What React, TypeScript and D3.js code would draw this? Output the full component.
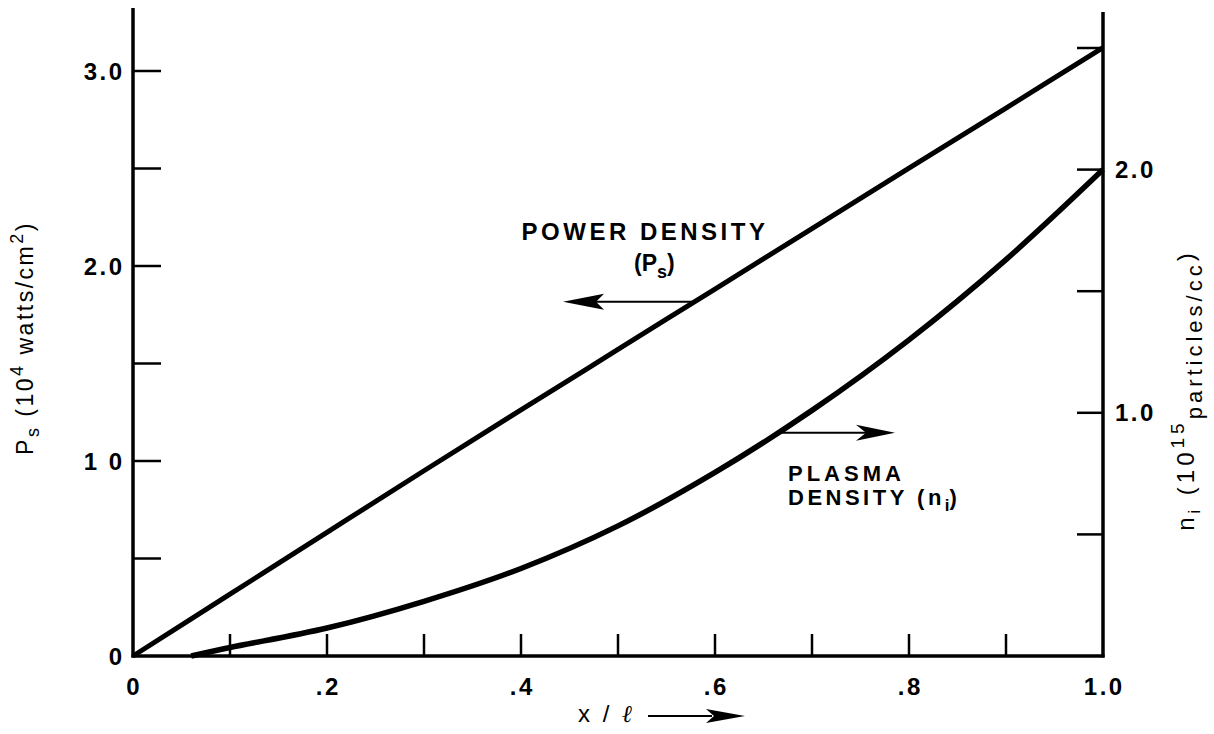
import React from "react";
import * as d3 from "d3";

// x / l positions
const xValues = [0, 0.1, 0.2, 0.3, 0.4, 0.5, 0.6, 0.7, 0.8, 0.9, 1.0];
// Power density Ps (10^4 watts/cm^2), left axis
const powerDensity = [0, 0.317, 0.634, 0.95, 1.262, 1.572, 1.882, 2.192, 2.502, 2.81, 3.12];
// Plasma density ni (10^15 particles/cc), right axis
const plasmaX = [0.06, 0.1, 0.2, 0.3, 0.4, 0.5, 0.6, 0.7, 0.8, 0.9, 1.0];
const plasmaDensity = [0, 0.035, 0.115, 0.225, 0.36, 0.535, 0.755, 1.01, 1.3, 1.63, 2.0];

const xTicks = [0.1, 0.2, 0.3, 0.4, 0.5, 0.6, 0.7, 0.8, 0.9];
const xTickLabels = [
  { v: 0, t: "0" },
  { v: 0.2, t: ".2" },
  { v: 0.4, t: ".4" },
  { v: 0.6, t: ".6" },
  { v: 0.8, t: ".8" },
  { v: 1.0, t: "1.0" },
];
const leftTicks = [0.5, 1.0, 1.5, 2.0, 2.5, 3.0];
const leftTickLabels = [
  { v: 0, t: "0" },
  { v: 1.0, t: "1 0" },
  { v: 2.0, t: "2.0" },
  { v: 3.0, t: "3.0" },
];
const rightTicks = [0.5, 1.0, 1.5, 2.0, 2.5];
const rightTickLabels = [
  { v: 1.0, t: "1.0" },
  { v: 2.0, t: "2.0" },
];

const W = 1214;
const H = 734;

export default function App() {
  const x = d3.scaleLinear().domain([0, 1]).range([133, 1103]);
  const yL = d3.scaleLinear().domain([0, 3]).range([656, 71]);
  const yR = d3.scaleLinear().domain([0, 2.5]).range([656, 48]);

  const powerLine = d3
    .line<number>()
    .x((_, i) => x(xValues[i]))
    .y((d) => yL(d))
    .curve(d3.curveCatmullRom.alpha(0.5))(powerDensity) as string;

  const plasmaLine = d3
    .line<number>()
    .x((_, i) => x(plasmaX[i]))
    .y((d) => yR(d))
    .curve(d3.curveCatmullRom.alpha(0.5))(plasmaDensity) as string;

  const font = "'Liberation Sans', Arial, Helvetica, sans-serif";
  const x0 = x(0);
  const x1 = x(1);
  const y0 = yL(0);
  const ls = 2.5; // letter spacing for tick labels

  // annotation anchor points derived from data
  const pAx = 0.579;
  const pAy = yL(d3.interpolateNumber(powerDensity[5], powerDensity[6])((pAx - 0.5) / 0.1));
  const nAx = 0.664;
  const nAy = yR(d3.interpolateNumber(plasmaDensity[6], plasmaDensity[7])((nAx - 0.6) / 0.1));

  return (
    <svg
      width={W}
      height={H}
      style={{ position: "absolute", left: 0, top: 0, background: "#fff" }}
      fontFamily={font}
    >
      <rect x={0} y={0} width={W} height={H} fill="#fff" />
      {/* axes */}
      <line x1={x0} y1={8} x2={x0} y2={y0 + 1.5} stroke="#000" strokeWidth={3.5} />
      <line x1={x1} y1={12} x2={x1} y2={y0 + 1.5} stroke="#000" strokeWidth={3.5} />
      <line x1={x0 - 1.5} y1={y0} x2={x1 + 1.5} y2={y0} stroke="#000" strokeWidth={3.5} />

      {/* left ticks */}
      {leftTicks.map((v) => (
        <line key={"lt" + v} x1={x0} x2={x0 + 28} y1={yL(v)} y2={yL(v)} stroke="#000" strokeWidth={2.5} />
      ))}
      {/* right ticks */}
      {rightTicks.map((v) => (
        <line key={"rt" + v} x1={x1 - 26} x2={x1} y1={yR(v)} y2={yR(v)} stroke="#000" strokeWidth={2.5} />
      ))}
      {/* bottom ticks */}
      {xTicks.map((v) => (
        <line key={"bt" + v} x1={x(v)} x2={x(v)} y1={y0} y2={y0 - 22} stroke="#000" strokeWidth={2.5} />
      ))}

      {/* tick labels */}
      {leftTickLabels.map((d) => (
        <text
          key={"ll" + d.v}
          x={122 + ls}
          y={yL(d.v)}
          dy="0.36em"
          textAnchor="end"
          fontSize={24}
          fontWeight="bold"
          letterSpacing={ls}
        >
          {d.t}
        </text>
      ))}
      {rightTickLabels.map((d) => (
        <text
          key={"rl" + d.v}
          x={1115}
          y={yR(d.v)}
          dy="0.36em"
          textAnchor="start"
          fontSize={24}
          fontWeight="bold"
          letterSpacing={ls}
        >
          {d.t}
        </text>
      ))}
      {xTickLabels.map((d) => (
        <text
          key={"xl" + d.v}
          x={x(d.v) + ls / 2}
          y={695}
          textAnchor="middle"
          fontSize={24}
          fontWeight="bold"
          letterSpacing={ls}
        >
          {d.t}
        </text>
      ))}

      {/* data lines */}
      <path d={powerLine} fill="none" stroke="#000" strokeWidth={5} strokeLinejoin="round" />
      <path d={plasmaLine} fill="none" stroke="#000" strokeWidth={5.5} strokeLinejoin="round" />

      {/* power density annotation */}
      <text x={643 + 2} y={240} textAnchor="middle" fontSize={24} fontWeight="bold" letterSpacing={3.5}>
        POWER DENSITY
      </text>
      <text x={634} y={271} fontSize={23} fontWeight="bold">
        (P
        <tspan dy={7} fontSize={18}>s</tspan>
        <tspan dy={-7}>)</tspan>
      </text>
      <line x1={x(pAx)} y1={pAy} x2={596} y2={pAy} stroke="#000" strokeWidth={2} />
      <polygon
        points={`563,${pAy} 604,${pAy - 8} 596,${pAy} 604,${pAy + 8}`}
        fill="#000"
      />

      {/* plasma density annotation */}
      <line x1={x(nAx)} y1={nAy} x2={867} y2={nAy} stroke="#000" strokeWidth={2} />
      <polygon
        points={`895,${nAy} 856,${nAy - 8} 866,${nAy} 856,${nAy + 8}`}
        fill="#000"
      />
      <text x={788} y={481} fontSize={22} fontWeight="bold" letterSpacing={4}>
        PLASMA
      </text>
      <text x={788} y={505} fontSize={22} fontWeight="bold" letterSpacing={3.5}>
        DENSITY (n
        <tspan dy={6} fontSize={17} letterSpacing={0}>i</tspan>
        <tspan dy={-6}>)</tspan>
      </text>

      {/* x axis title */}
      <text x={578} y={722} fontSize={24} letterSpacing={3}>
        x /{" "}
        <tspan fontStyle="italic" fontFamily="'DejaVu Serif', serif">ℓ</tspan>
      </text>
      <line x1={648} y1={716} x2={712} y2={716} stroke="#000" strokeWidth={2} />
      <polygon points="745,716 706,709 714,716 706,723" fill="#000" />

      {/* left axis title */}
      <text
        transform="translate(33,338) rotate(-90)"
        textAnchor="middle"
        fontSize={23}
        letterSpacing={2.5}
      >
        P<tspan dy={6} fontSize={18}>s</tspan>
        <tspan dy={-6}> (10</tspan>
        <tspan dy={-10} fontSize={18}>4</tspan>
        <tspan dy={10}> watts/cm</tspan>
        <tspan dy={-10} fontSize={18}>2</tspan>
        <tspan dy={10}>)</tspan>
      </text>

      {/* right axis title */}
      <text
        transform="translate(1194,390) rotate(-90)"
        textAnchor="middle"
        fontSize={24}
        letterSpacing={4}
      >
        n<tspan dy={6} fontSize={16}>i</tspan>
        <tspan dy={-6}> (10</tspan>
        <tspan dy={-10} fontSize={19}>15</tspan>
        <tspan dy={18} fontSize={22}>particles/cc</tspan>
        <tspan dy={-8}>)</tspan>
      </text>
    </svg>
  );
}
